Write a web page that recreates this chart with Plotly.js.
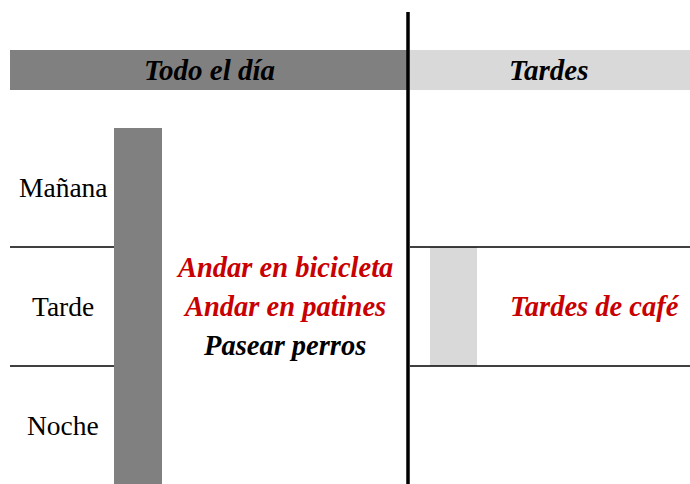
<!DOCTYPE html>
<html><head><meta charset="utf-8">
<script src="https://cdn.plot.ly/plotly-3.0.1.min.js"></script>
<style>html,body{margin:0;padding:0;background:#fff;}#chart{width:690px;height:484px;}</style>
</head><body><div id="chart"></div>
<script>
// ---- data ----
const rows = ["Mañana", "Tarde", "Noche"];
const periods = ["Todo el día", "Tardes"];
const periodFirstRow = [0, 1];
const periodLastRow = [2, 1];
const activities = [["Andar en bicicleta", "Andar en patines", "Pasear perros"], ["Tardes de café"]];
const activityHighlighted = [[true, true, false], [true]];

// ---- style / layout constants ----
const periodColors = ["#808080", "#d9d9d9"];
const panelStart = [10, 408];
const panelEnd = [408, 690];
const barCenter = [138, 453.5];
const barWidth = [48, 47];
const textCenter = [284.5, 595];
const labelX = 63;
const headerRow = -0.987, headerThick = 0.336;
const lineTop = -1.475;
const lineSpacing = 0.328;
const red = "#c80000";
const serif = "Liberation Serif, Times New Roman, serif";

const traces = [];
// header bands
periods.forEach((p, i) => {
  traces.push({type: "bar", orientation: "h", y: [headerRow], base: [panelStart[i]],
    x: [panelEnd[i] - panelStart[i]], width: [headerThick],
    marker: {color: periodColors[i], line: {width: 0}}, hoverinfo: "skip", showlegend: false});
});
// period span bars
periods.forEach((p, i) => {
  traces.push({type: "bar", x: [barCenter[i]], base: [periodFirstRow[i] - 0.5],
    y: [periodLastRow[i] - periodFirstRow[i] + 1], width: [barWidth[i]],
    marker: {color: periodColors[i], line: {width: 0}}, hoverinfo: "skip", showlegend: false});
});
// row separator lines
const sepX = [], sepY = [];
for (let r = 0; r < rows.length - 1; r++) {
  const yv = r + 0.5;
  sepX.push(panelStart[0], barCenter[0] - barWidth[0] / 2, null, panelStart[1] + 2, panelEnd[1], null);
  sepY.push(yv, yv, null, yv, yv, null);
}
traces.push({type: "scatter", mode: "lines", x: sepX, y: sepY, line: {color: "#000", width: 1.5},
  hoverinfo: "skip", showlegend: false});
// divider
traces.push({type: "scatter", mode: "lines", x: [panelEnd[0], panelEnd[0]], y: [lineTop, rows.length - 0.5 + 0.1],
  line: {color: "#000", width: 3.5}, hoverinfo: "skip", showlegend: false});

const annotations = [];
periods.forEach((p, i) => {
  annotations.push({x: (panelStart[i] + panelEnd[i]) / 2, y: headerRow, xref: "x", yref: "y",
    text: "<b><i>" + p + "</i></b>", showarrow: false,
    font: {family: serif, size: 29, color: "#000"}});
});
rows.forEach((r, i) => {
  annotations.push({x: labelX, y: i, xref: "x", yref: "y", text: r, showarrow: false,
    font: {family: serif, size: 27.5, color: "#000"}});
});
activities.forEach((list, p) => {
  const mid = (periodFirstRow[p] + periodLastRow[p]) / 2;
  const centerRow = p === 0 ? 1 : mid;
  list.forEach((a, k) => {
    annotations.push({x: textCenter[p], y: centerRow + (k - (list.length - 1) / 2) * lineSpacing,
      xref: "x", yref: "y", text: "<b><i>" + a + "</i></b>", showarrow: false,
      font: {family: serif, size: 28.5, color: activityHighlighted[p][k] ? red : "#000"}});
  });
});

const layout = {
  width: 690, height: 484, margin: {l: 0, r: 0, t: 0, b: 0},
  paper_bgcolor: "#fff", plot_bgcolor: "#fff", barmode: "overlay", showlegend: false,
  xaxis: {range: [0, 690], visible: false, fixedrange: true},
  yaxis: {range: [2.4916, -1.5756], visible: false, fixedrange: true},
  annotations: annotations
};
Plotly.newPlot("chart", traces, layout, {displayModeBar: false, staticPlot: true});
</script></body></html>
